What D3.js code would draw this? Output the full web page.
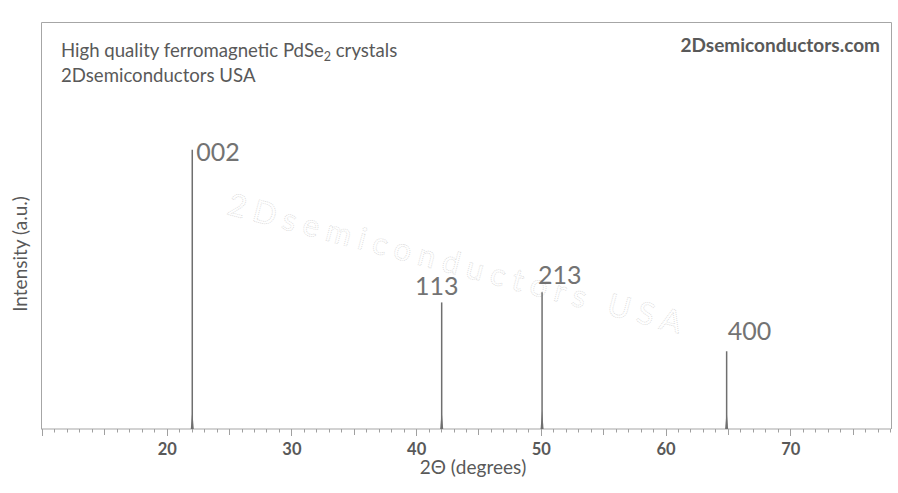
<!DOCTYPE html>
<html>
<head>
<meta charset="utf-8">
<script src="https://cdn.jsdelivr.net/npm/d3@7"></script>
<style>
html,body{margin:0;padding:0;background:#fff;}
svg{display:block;font-family:Lato,"Open Sans",sans-serif;}
</style>
</head>
<body>
<svg id="chart" width="898" height="493"></svg>
<script>
// ---- data ----
const peakLabels = ["002", "113", "213", "400"];
const peakPositions = [22.05, 42.05, 50.1, 64.9];   // 2Θ (degrees)
const peakIntensities = [68.6, 31.1, 33.6, 19.1];    // a.u. (relative)
const xTickValues = [20, 30, 40, 50, 60, 70];
const xTickLabels = ["20", "30", "40", "50", "60", "70"];
const titleLines = ["High quality ferromagnetic PdSe", "2Dsemiconductors USA"];
const brand = "2Dsemiconductors.com";
const watermark = "2Dsemiconductors USA";
const xTitle = "2Θ (degrees)";
const yTitle = "Intensity (a.u.)";

// ---- layout ----
const W = 898, H = 493;
const mLeft = 42, mRight = 890, mTop = 22, mBottom = 429;
const svg = d3.select("#chart");

const x = d3.scaleLinear().domain([10, 78]).range([mLeft, mRight]);
const y = d3.scaleLinear().domain([0, 100]).range([mBottom, mTop]);

// frame
svg.append("path")
  .attr("d", `M${mLeft-0.5},${mBottom}V${mTop+0.5}H${mRight+1.5}V${mBottom}`)
  .attr("fill", "none").attr("stroke", "#a6a6a6").attr("stroke-width", 1);

// watermark
const wmx = 226, wmy = 214;
svg.append("text")
  .attr("transform", `translate(${wmx},${wmy}) rotate(14.8)`)
  .attr("font-size", 31)
  .attr("font-family", "Lato, sans-serif")
  .attr("textLength", 468)
  .attr("lengthAdjust", "spacing")
  .attr("fill", "none")
  .attr("stroke", "#d6d6d6")
  .attr("stroke-width", 0.7)
  .attr("stroke-dasharray", "1,1")
  .text(watermark);

// x axis with minor ticks
const minorVals = d3.range(10, 79, 1);
const axisG = svg.append("g").attr("transform", `translate(0,${mBottom})`);
axisG.append("line").attr("x1", mLeft - 1).attr("x2", mRight + 1)
  .attr("stroke", "#a6a6a6").attr("stroke-width", 1.2);
axisG.selectAll("line.tk").data(minorVals).join("line").attr("class", "tk")
  .attr("x1", d => Math.round(x(d)) + 0.5).attr("x2", d => Math.round(x(d)) + 0.5)
  .attr("y1", 0)
  .attr("y2", d => d % 10 === 0 ? 7 : (d % 5 === 0 ? 6 : 3.5))
  .attr("stroke", "#a0a0a0").attr("stroke-width", 1);

const xAxis = d3.axisBottom(x).tickValues(xTickValues)
  .tickFormat((d, i) => xTickLabels[i]).tickSize(0).tickPadding(14);
const xa = svg.append("g").attr("transform", `translate(0,${mBottom})`).call(xAxis);
xa.select(".domain").remove();
xa.selectAll("text").attr("font-family", "Lato, sans-serif")
  .attr("font-size", 16.5).attr("font-weight", "bold").attr("fill", "#595959");

// axis titles
svg.append("text").attr("x", 473).attr("y", 474).attr("text-anchor", "middle")
  .attr("font-size", 19).attr("fill", "#595959").text(xTitle);
svg.append("text").attr("transform", "translate(27,254) rotate(-90)")
  .attr("text-anchor", "middle").attr("font-size", 19).attr("fill", "#595959")
  .text(yTitle);

// peaks
const peaks = peakPositions.map((p, i) => ({p, v: peakIntensities[i], l: peakLabels[i]}));
svg.selectAll("line.peak").data(peaks).join("line").attr("class", "peak")
  .attr("x1", d => x(d.p)).attr("x2", d => x(d.p))
  .attr("y1", y(0)).attr("y2", d => y(d.v))
  .attr("stroke", "#6f6f6f").attr("stroke-width", 1.5);
// small broadened base of each reflection
svg.selectAll("path.base").data(peaks).join("path").attr("class", "base")
  .attr("d", d => `M${x(d.p) - 1.5},${y(0)}L${x(d.p)},${y(4.5)}L${x(d.p) + 1.5},${y(0)}Z`)
  .attr("fill", "#6f6f6f");

// peak labels (placement per label)
const labelPlace = {
  "002": {dx: 4, dy: 11, anchor: "start"},
  "113": {dx: -5, dy: -7, anchor: "middle"},
  "213": {dx: -4, dy: -8, anchor: "start"},
  "400": {dx: 1, dy: -11, anchor: "start"}
};
svg.selectAll("text.pl").data(peaks).join("text").attr("class", "pl")
  .attr("x", d => x(d.p) + labelPlace[d.l].dx)
  .attr("y", d => y(d.v) + labelPlace[d.l].dy)
  .attr("text-anchor", d => labelPlace[d.l].anchor)
  .attr("font-size", 25).attr("fill", "#737373")
  .text(d => d.l);

// title block
const t1 = svg.append("text").attr("x", 61).attr("y", 57)
  .attr("font-size", 18.6).attr("fill", "#595959");
t1.append("tspan").text(titleLines[0]);
t1.append("tspan").attr("font-size", 12.5).attr("dy", 4).text("2");
t1.append("tspan").attr("dy", -4).text(" crystals");
svg.append("text").attr("x", 61).attr("y", 82)
  .attr("font-size", 18.6).attr("fill", "#595959").text(titleLines[1]);

svg.append("text").attr("x", 880).attr("y", 52).attr("text-anchor", "end")
  .attr("font-size", 19).attr("font-weight", "bold").attr("fill", "#595959")
  .text(brand);
</script>
</body>
</html>
